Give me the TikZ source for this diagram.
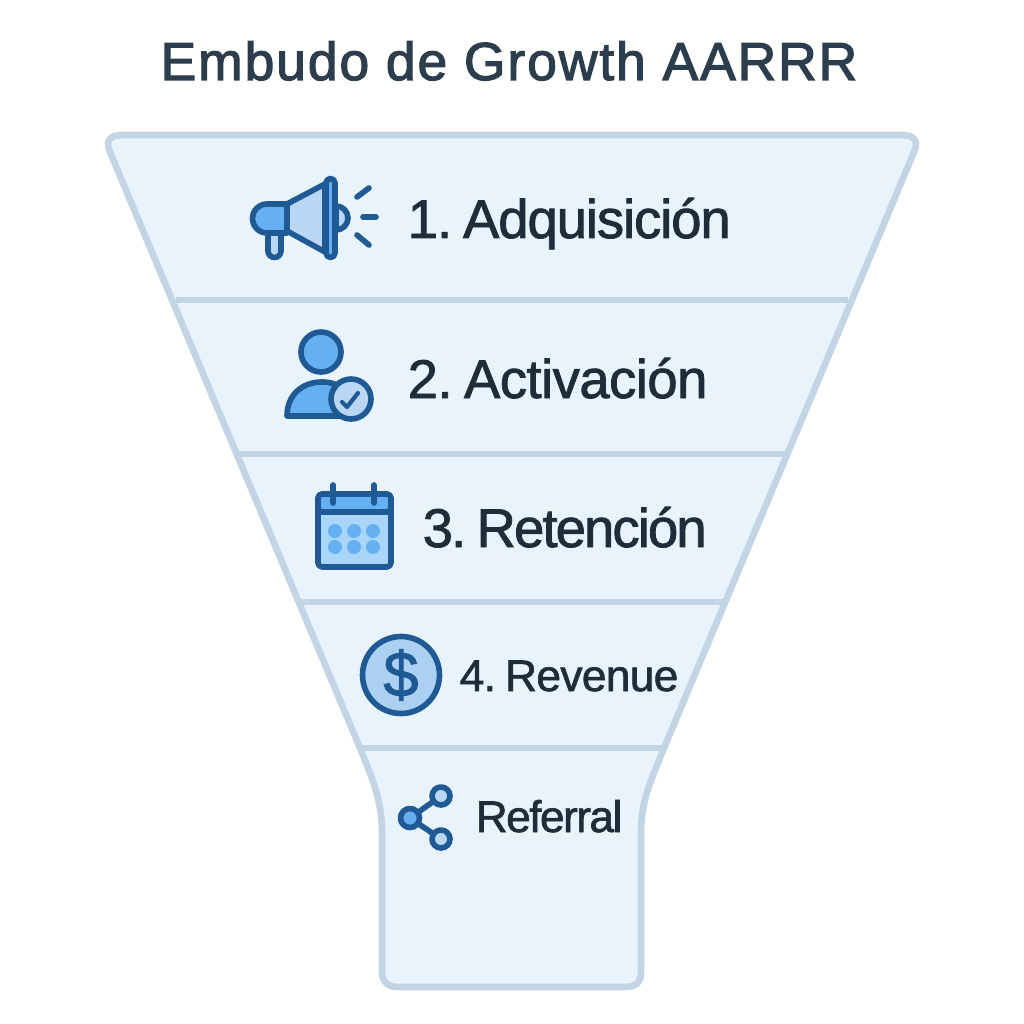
\documentclass[tikz,border=0pt]{standalone}
\usepackage{fontspec}
\setmainfont{Liberation Sans}
\newfontfamily\titlefont[FakeBold=2.2,LetterSpace=3.6]{Liberation Sans}
\newfontfamily\stagefont[FakeBold=1.5,WordSpace=0.45]{Liberation Sans}
\usepackage{xcolor}
\definecolor{shell}{HTML}{C3D5E5}
\definecolor{paper}{HTML}{E9F3FC}
\definecolor{ink}{HTML}{1F5A94}
\definecolor{mid}{HTML}{64B0F2}
\definecolor{pale}{HTML}{B9D6F2}
\definecolor{sky}{HTML}{A9D6F8}
\definecolor{txt}{HTML}{1F2D3A}
\definecolor{ttl}{HTML}{2C3E4E}
\tikzset{
  funnel/.style={draw=shell,fill=paper,line width=1.9pt,line join=round},
  divider/.style={draw=shell,line width=1.7pt},
  icon/.style={draw=ink,line width=1.6pt,line join=round,line cap=round},
  stage/.style={anchor=base west,inner sep=0pt,text=txt,font=\stagefont\fontsize{15.5}{18}\selectfont},
  small/.style={stage,font=\stagefont\fontsize{12.6}{16}\selectfont},
}
\begin{document}
\begin{tikzpicture}[x=0.1mm,y=-0.1mm]
\useasboundingbox (0,0) rectangle (1024,1024);
\fill[white] (0,0) rectangle (1024,1024);
% \draw[help lines,step=100] (0,0) grid (1024,1024);
\node (title) [anchor=base,inner sep=0pt,text=ttl,font=\titlefont\fontsize{15.2}{18}\selectfont] at (509,80) {Embudo de Growth AARRR};
%
\path[funnel] (122,135) -- (902,135) .. controls (914,135) and (919,141) .. (914,152)
  -- (664,748) .. controls (652,778) and (641,800) .. (641,832)
  -- (641,972) .. controls (641,982) and (636,987) .. (626,987)
  -- (398,987) .. controls (388,987) and (382,982) .. (382,972)
  -- (382,832) .. controls (382,800) and (372,778) .. (360,748)
  -- (110,152) .. controls (105,141) and (110,135) .. (122,135) -- cycle;
\coordinate (l1) at (176,300); \coordinate (r1) at (848,300);
\coordinate (l2) at (239,454); \coordinate (r2) at (785,454);
\coordinate (l3) at (300,602); \coordinate (r3) at (724,602);
\coordinate (l4) at (360,748); \coordinate (r4) at (664,748);
\foreach \i in {1,...,4} \draw[divider] (l\i) -- (r\i);
%
\node (adq) [stage] at (407,238) {\addfontfeature{LetterSpace=-2}1. Adquisición};
\node (act) [stage] at (407,398) {\addfontfeature{LetterSpace=-1}2. Activación};
\node (ret) [stage] at (422,547) {\addfontfeature{LetterSpace=-3.5}3. Retención};
\node (rev) [small] at (459,691) {\addfontfeature{LetterSpace=-1.5}4. Revenue};
\node (ref) [small] at (475,832) {\addfontfeature{LetterSpace=-3.5}Referral};
% megaphone
\draw[icon,fill=pale] (268,233) -- (268,251) arc[start angle=180,end angle=0,radius=6.5] -- (281,233) -- cycle;
\draw[icon,fill=pale] (336,206) arc[start angle=-90,end angle=90,radius=12] -- cycle;
\draw[icon,fill=pale] (287,204) -- (325,184) -- (325,252) -- (287,231) -- cycle;
\draw[icon,fill=mid] (287,204) -- (267,204) arc[start angle=-90,end angle=-270,radius=14.5] -- (287,233) -- cycle;
\draw[icon,fill=mid] (326,183) arc[start angle=180,end angle=360,radius=4.5] -- (335,253) arc[start angle=0,end angle=180,radius=4.5] -- cycle;
\draw[icon] (357,197) -- (369,188);
\draw[icon] (363,217) -- (376,217);
\draw[icon] (357,235) -- (369,245);
% person
\draw[icon,fill=mid] (321,352) circle (20);
\draw[icon,fill=mid] (287,416) .. controls (287,395) and (302,382) .. (322,382) .. controls (340,382) and (352,392) .. (352,416) -- cycle;
\draw[icon,fill=pale] (351,399) circle (20);
\draw[icon,line width=1.2pt] (342,402) -- (347,407) -- (358,393);
% calendar
\draw[icon,fill=sky,rounded corners=1.2pt] (318,494) rectangle (391,567);
\draw[icon,fill=mid,rounded corners=1.2pt] (318,512) -- (318,494) -- (391,494) -- (391,512) -- cycle;
\draw[icon] (333,485) -- (333,503);
\draw[icon] (374,485) -- (374,503);
\foreach \x in {335,354,373}
  \foreach \y in {531,547}
    \fill[mid] (\x,\y) circle (7);
% coin
\draw[icon,fill=pale!85!mid] (401,675) circle (38.5);
\node (coin) [inner sep=0pt,text=ink,font=\stagefont\fontsize{18}{22}\selectfont] at (401,675) {\$};
% share
\draw[icon] (410,818) -- (441,796);
\draw[icon] (410,818) -- (441,839);
\draw[icon,fill=mid] (410,818) circle (9.5);
\draw[icon,fill=pale] (441,796) circle (9);
\draw[icon,fill=pale] (441,839) circle (9);
\end{tikzpicture}
\end{document}
